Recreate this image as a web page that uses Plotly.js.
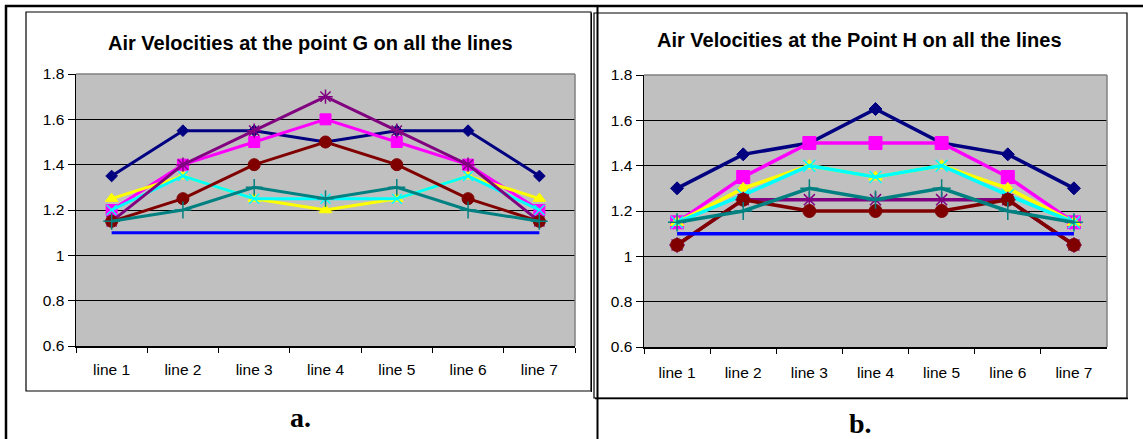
<!DOCTYPE html>
<html>
<head>
<meta charset="utf-8">
<script src="https://cdn.plot.ly/plotly-3.0.1.min.js"></script>
<style>
  html, body { margin: 0; padding: 0; background: #ffffff; }
  #chart { width: 1143px; height: 439px; }
</style>
</head>
<body>
<div id="chart"></div>
<script>
// ---------- DATA ----------
const categories = ["line 1", "line 2", "line 3", "line 4", "line 5", "line 6", "line 7"];

const titleG = "Air Velocities at the point G on all the lines";
const titleH = "Air Velocities at the Point H on all the lines";
const panelLabels = ["a.", "b."];

// Point G (left chart)
const gNavy    = [1.35, 1.55, 1.55, 1.50, 1.55, 1.55, 1.35];
const gMagenta = [1.20, 1.40, 1.50, 1.60, 1.50, 1.40, 1.20];
const gYellow  = [1.25, 1.35, 1.25, 1.20, 1.25, 1.35, 1.25];
const gCyan    = [1.20, 1.35, 1.25, 1.25, 1.25, 1.35, 1.20];
const gPurple  = [1.15, 1.40, 1.55, 1.70, 1.55, 1.40, 1.15];
const gDarkRed = [1.15, 1.25, 1.40, 1.50, 1.40, 1.25, 1.15];
const gTeal    = [1.15, 1.20, 1.30, 1.25, 1.30, 1.20, 1.15];
const gBlue    = [1.10, 1.10, 1.10, 1.10, 1.10, 1.10, 1.10];

// Point H (right chart)
const hNavy    = [1.30, 1.45, 1.50, 1.65, 1.50, 1.45, 1.30];
const hMagenta = [1.15, 1.35, 1.50, 1.50, 1.50, 1.35, 1.15];
const hYellow  = [1.15, 1.30, 1.40, 1.35, 1.40, 1.30, 1.15];
const hCyan    = [1.15, 1.27, 1.40, 1.35, 1.40, 1.27, 1.15];
const hPurple  = [1.05, 1.25, 1.25, 1.25, 1.25, 1.25, 1.05];
const hDarkRed = [1.05, 1.25, 1.20, 1.20, 1.20, 1.25, 1.05];
const hTeal    = [1.15, 1.20, 1.30, 1.25, 1.30, 1.20, 1.15];
const hBlue    = [1.10, 1.10, 1.10, 1.10, 1.10, 1.10, 1.10];

const yTickVals = [0.6, 0.8, 1.0, 1.2, 1.4, 1.6, 1.8];
const yTickText = ["0.6", "0.8", "1", "1.2", "1.4", "1.6", "1.8"];

// ---------- STYLE ----------
const W = 1143, H = 439;
const px = x => x / W;
const py = y => 1 - y / H;

const styles = [
  {color: "#000080", symbol: "diamond",         sizeL: 9,  sizeR: 10, open: false},
  {color: "#FF00FF", symbol: "square",          sizeL: 11, sizeR: 13, open: false},
  {color: "#FFFF00", symbol: "triangle-up",     sizeL: 11, sizeR: 12, open: false},
  {color: "#00FFFF", symbol: "x-thin-open",     sizeL: 10, sizeR: 12, open: true},
  {color: "#800080", symbol: "asterisk-open",   sizeL: 12, sizeR: 13, open: true},
  {color: "#800000", symbol: "circle",          sizeL: 12, sizeR: 13, open: false},
  {color: "#008080", symbol: "cross-thin-open", sizeL: 12, sizeR: 13, open: true},
  {color: "#0000FF", symbol: null,              sizeL: 0,  sizeR: 0,  open: false}
];

const seriesG = [gNavy, gMagenta, gYellow, gCyan, gPurple, gDarkRed, gTeal, gBlue];
const seriesH = [hNavy, hMagenta, hYellow, hCyan, hPurple, hDarkRed, hTeal, hBlue];

function makeTraces(series, xa, ya, right) {
  return series.map((vals, i) => {
    const s = styles[i];
    const t = {
      type: "scatter",
      x: categories,
      y: vals,
      xaxis: xa,
      yaxis: ya,
      mode: s.symbol ? "lines+markers" : "lines",
      line: {color: s.color, width: right ? 3.5 : 3},
      hoverinfo: "skip",
      showlegend: false
    };
    if (s.symbol) {
      t.marker = {
        symbol: s.symbol,
        size: right ? s.sizeR : s.sizeL,
        color: s.color,
        line: {color: s.color, width: s.open ? 1.5 : 1}
      };
    }
    return t;
  });
}

const data = makeTraces(seriesG, "x", "y", false).concat(makeTraces(seriesH, "x2", "y2", true));

const tickFont = {family: "Liberation Sans, Arial, sans-serif", size: 15.5, color: "#000000"};

function xAxis(domain, anchor, standoff) {
  return {
    domain: domain,
    anchor: anchor,
    type: "category",
    categoryorder: "array",
    categoryarray: categories,
    range: [-0.5, 6.5],
    tickson: "boundaries",
    ticks: "outside",
    ticklen: 5,
    tickcolor: "#000000",
    tickwidth: 1,
    ticklabelstandoff: standoff,
    showline: true,
    linecolor: "#000000",
    linewidth: 1.5,
    showgrid: false,
    zeroline: false,
    tickfont: tickFont,
    fixedrange: true
  };
}
function yAxis(domain, anchor) {
  return {
    domain: domain,
    anchor: anchor,
    range: [0.6, 1.8],
    tickvals: yTickVals,
    ticktext: yTickText,
    ticks: "outside",
    ticklen: 7,
    tickcolor: "#000000",
    tickwidth: 1,
    showline: true,
    linecolor: "#000000",
    linewidth: 1.5,
    showgrid: true,
    gridcolor: "#000000",
    gridwidth: 1,
    zeroline: false,
    tickfont: tickFont,
    fixedrange: true
  };
}

const lineK = (x0, y0, x1, y1, w, c) => ({
  type: "line", xref: "paper", yref: "paper",
  x0: px(x0), y0: py(y0), x1: px(x1), y1: py(y1),
  line: {color: c || "#000000", width: w}, layer: "above"
});
const rectK = (x0, y0, x1, y1, w) => ({
  type: "rect", xref: "paper", yref: "paper",
  x0: px(x0), y0: py(y0), x1: px(x1), y1: py(y1),
  line: {color: "#000000", width: w}, fillcolor: "rgba(0,0,0,0)", layer: "below"
});
const border = (xr, yr) => ([
  {type: "line", xref: xr + " domain", yref: yr + " domain", x0: 0, y0: 1, x1: 1, y1: 1,
   line: {color: "#808080", width: 1.5}, layer: "above"},
  {type: "line", xref: xr + " domain", yref: yr + " domain", x0: 1, y0: 0, x1: 1, y1: 1,
   line: {color: "#808080", width: 1.5}, layer: "above"}
]);

const shapes = [
  // outer table lines
  lineK(5, 6, 1143, 6, 2.5),
  lineK(6, 5, 6, 439, 2.5),
  lineK(597.5, 6, 597.5, 439, 2),
  // chart frames
  rectK(26, 12, 591, 391, 1.2),
  rectK(594, 13, 1127, 398, 1.2),
  lineK(595, 398.5, 1128, 398.5, 1.5),
  lineK(591.5, 13, 591.5, 392, 1)
].concat(border("x", "y")).concat(border("x2", "y2"));

const titleFont = {family: "Liberation Sans, Arial, sans-serif", size: 20, color: "#000000", weight: "bold"};
const labelFont = {family: "Liberation Serif, Times New Roman, serif", size: 28, color: "#000000", weight: "bold"};

const annotations = [
  {text: "<b>" + titleG + "</b>", xref: "paper", yref: "paper", x: px(310), y: py(43),
   xanchor: "center", yanchor: "middle", showarrow: false, font: titleFont},
  {text: "<b>" + titleH + "</b>", xref: "paper", yref: "paper", x: px(859), y: py(40),
   xanchor: "center", yanchor: "middle", showarrow: false, font: titleFont},
  {text: "<b>" + panelLabels[0] + "</b>", xref: "paper", yref: "paper", x: px(300), y: py(417),
   xanchor: "center", yanchor: "middle", showarrow: false, font: labelFont},
  {text: "<b>" + panelLabels[1] + "</b>", xref: "paper", yref: "paper", x: px(860), y: py(423),
   xanchor: "center", yanchor: "middle", showarrow: false, font: labelFont}
];

const layout = {
  width: W, height: H,
  margin: {l: 0, r: 0, t: 0, b: 0, pad: 0},
  paper_bgcolor: "#ffffff",
  plot_bgcolor: "#C0C0C0",
  showlegend: false,
  xaxis: xAxis([px(76), px(575)], "y", 9),
  yaxis: yAxis([py(346), py(74)], "x"),
  xaxis2: xAxis([px(644), px(1107)], "y2", 11),
  yaxis2: yAxis([py(347), py(75)], "x2"),
  shapes: shapes,
  annotations: annotations
};

Plotly.newPlot("chart", data, layout, {staticPlot: true, displayModeBar: false});
</script>
</body>
</html>
